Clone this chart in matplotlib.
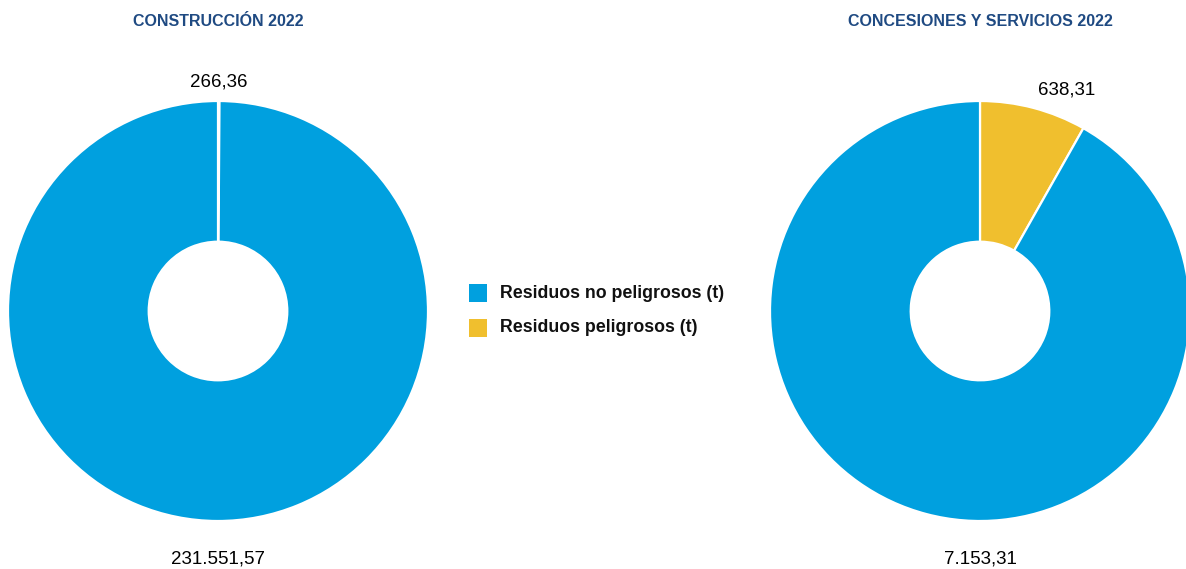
import numpy as np
import matplotlib.pyplot as plt
from matplotlib.patches import Rectangle

plt.rcParams['font.family'] = ['Liberation Sans', 'DejaVu Sans']

# waste per business line, tonnes
titles = ["CONSTRUCCIÓN 2022", "CONCESIONES Y SERVICIOS 2022"]
categories = ["Residuos peligrosos (t)", "Residuos no peligrosos (t)"]
peligrosos = [266.36, 638.31]
no_peligrosos = [231551.57, 7153.31]
value_labels = [["266,36", "231.551,57"], ["638,31", "7.153,31"]]

colors = ["#f0bf2e", "#00a0df"]
title_color = "#1f4a82"

W, H = 1186, 569
fig = plt.figure(figsize=(W / 100, H / 100), dpi=100)
ax = fig.add_axes([0, 0, 1, 1])
ax.set_xlim(0, W)
ax.set_ylim(0, H)
ax.set_aspect('equal')
ax.axis('off')

centers = [(218, H - 311), (980, H - 311)]
R = 210

for i in range(2):
    cx, cy = centers[i]
    vals = [peligrosos[i], no_peligrosos[i]]
    ax.pie(vals, colors=colors, startangle=90, counterclock=False,
           center=(cx, cy), radius=R, frame=True,
           wedgeprops=dict(width=R * 0.67, edgecolor='white', linewidth=1.6))

    # yellow label at the middle of its slice, blue one under the ring
    frac = vals[0] / sum(vals)
    mid = np.deg2rad(90 - 180 * frac)
    lx = cx + 1.09 * R * np.cos(mid)
    ly = cy + 1.09 * R * np.sin(mid)
    ha = 'center' if abs(np.cos(mid)) < 0.1 else 'left'
    ax.text(lx, ly, value_labels[i][0], ha=ha, va='center', fontsize=13.5)
    ax.text(cx, cy - 1.14 * R, value_labels[i][1], ha='center', va='top',
            fontsize=13.5)

    ax.text(cx, H - 21, titles[i], ha='center', va='center', fontsize=11.5,
            fontweight='bold', color=title_color)

ax.set_xlim(0, W)
ax.set_ylim(0, H)

# legend
legend_rows = [(categories[1], colors[1]), (categories[0], colors[0])]
for k, (name, c) in enumerate(legend_rows):
    yc = H - (293 + 35 * k)
    ax.add_patch(Rectangle((469, yc - 9), 18, 18, facecolor=c, edgecolor='none'))
    ax.text(500, yc, name, ha='left', va='center', fontsize=12.8,
            fontweight='bold', color='#111111')

fig.savefig("out.png", dpi=100)
